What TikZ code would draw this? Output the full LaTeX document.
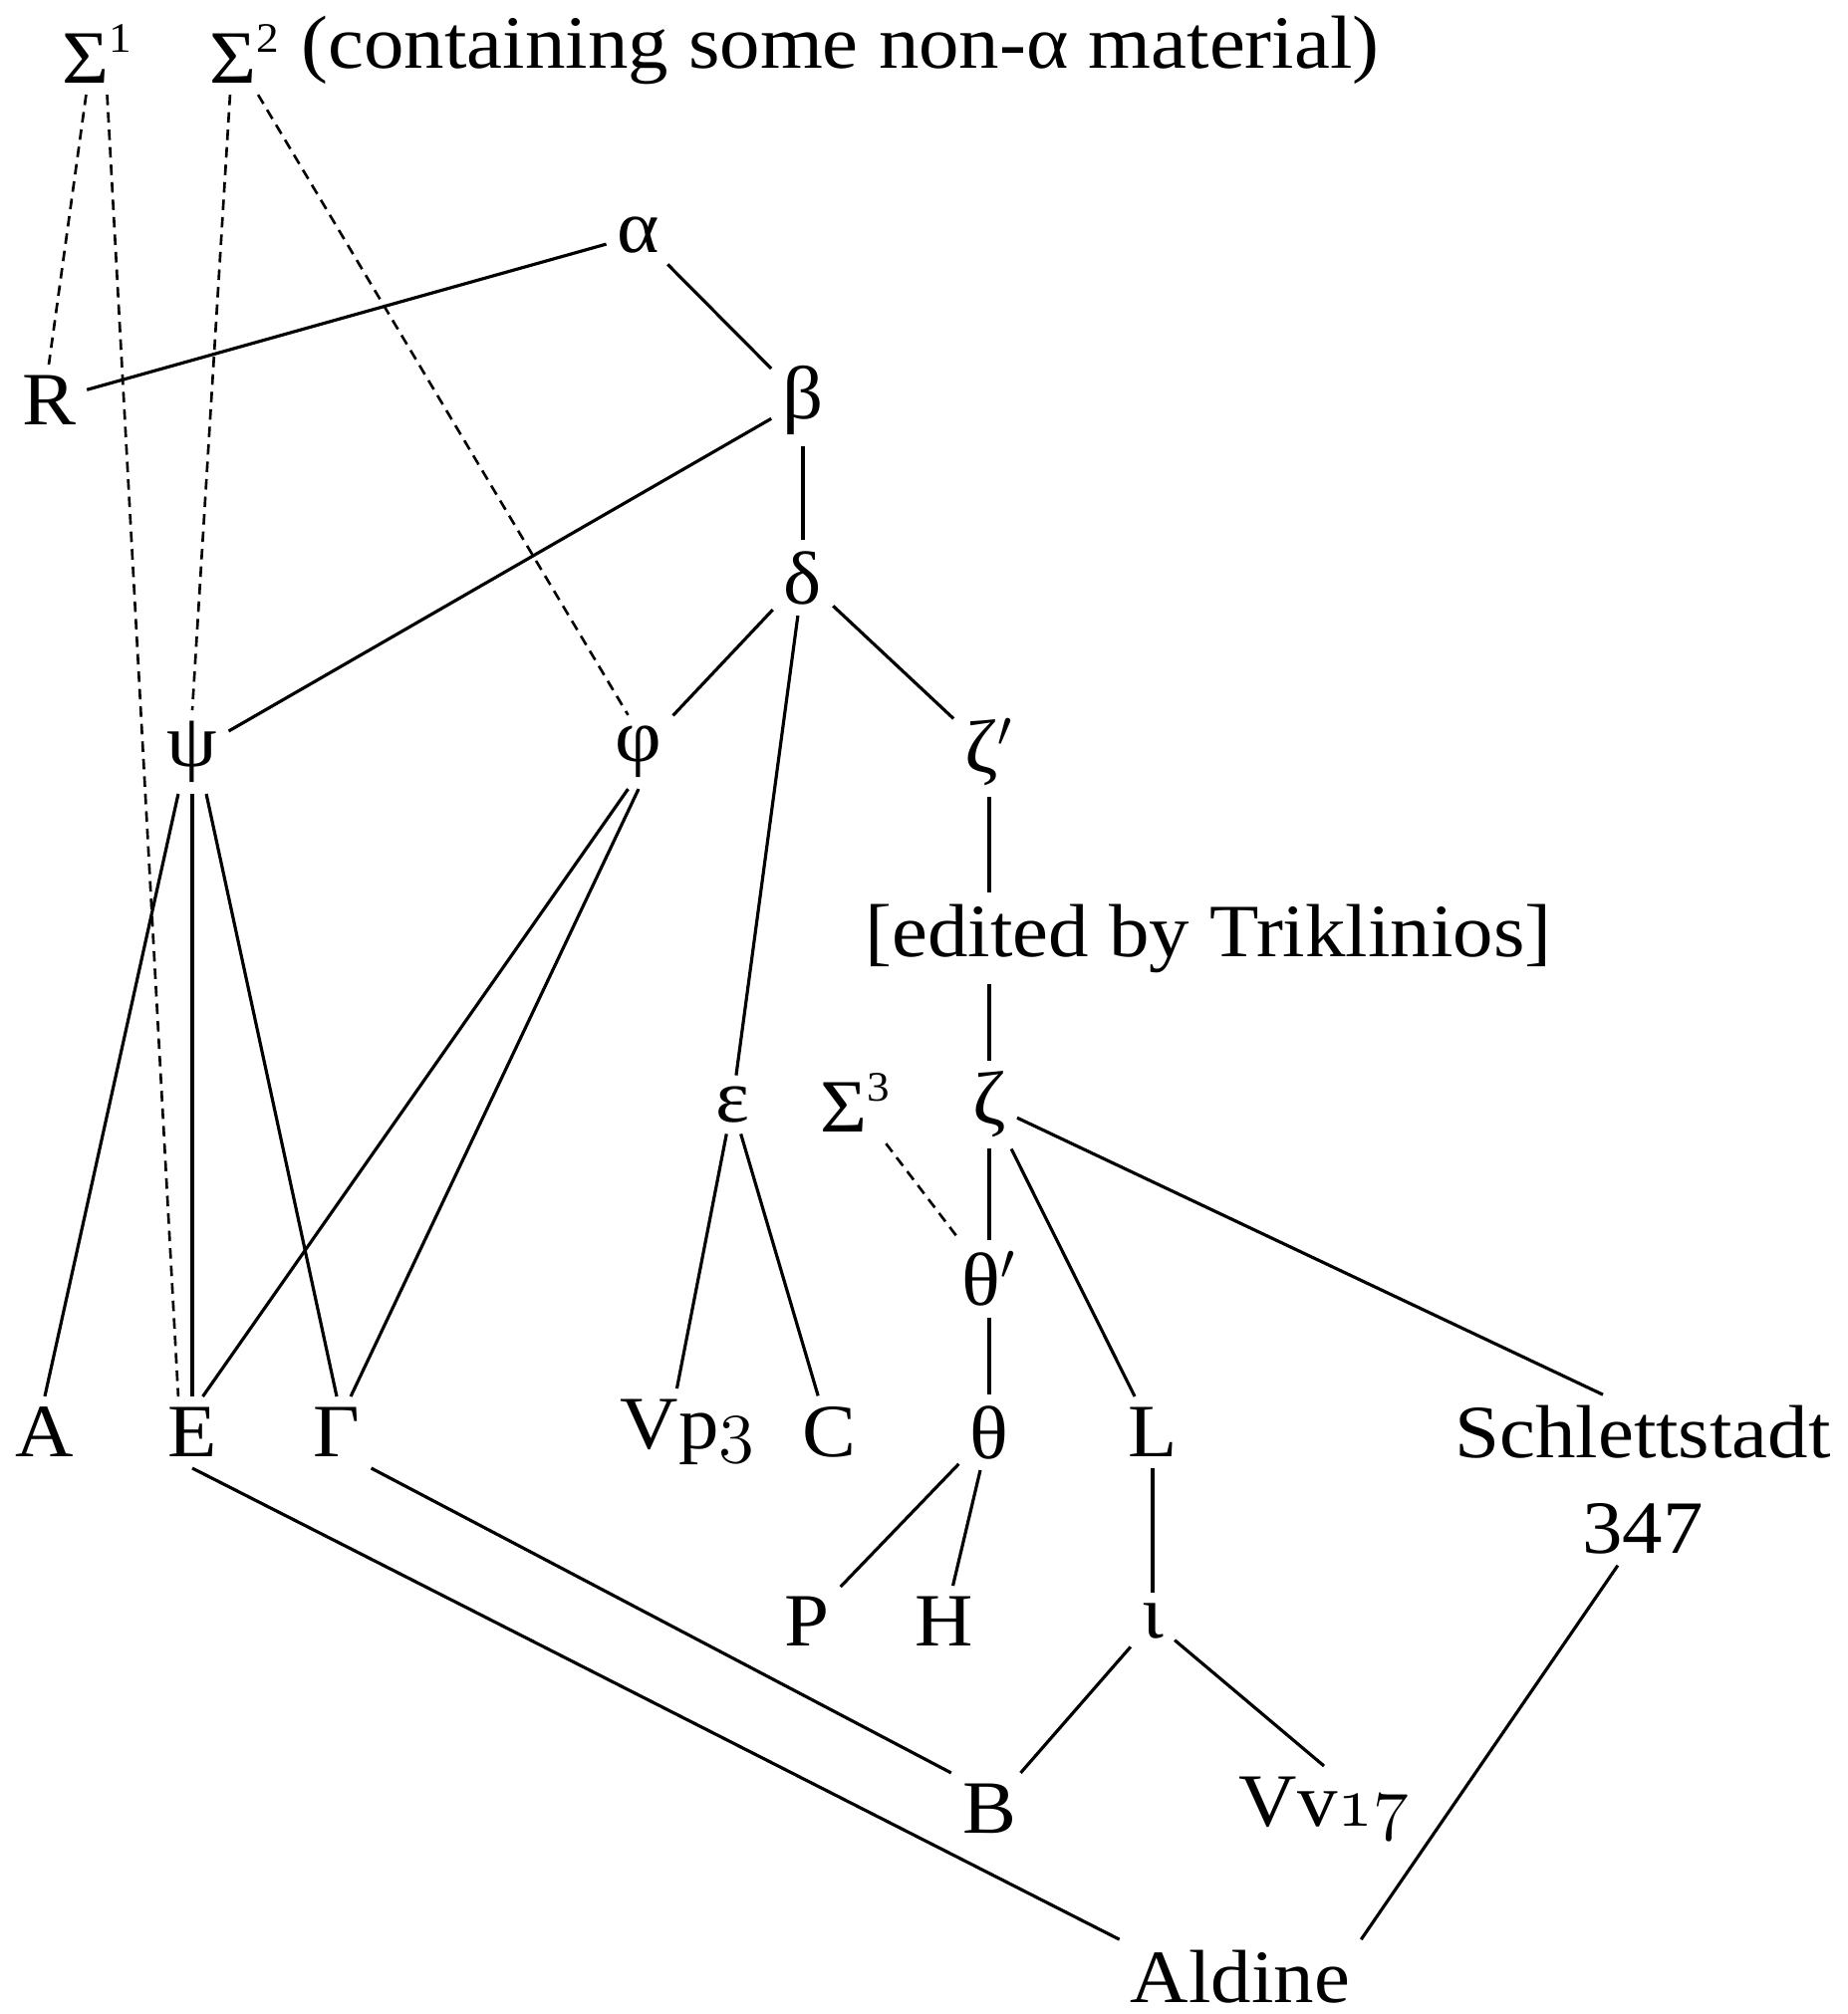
\documentclass[tikz,border=0pt]{standalone}
\usepackage{fontspec}
\setmainfont{Liberation Serif}[FakeStretch=1.07]
\newcommand{\osn}[1]{{\usefont{OML}{cmm}{m}{it}#1}}
\newcommand{\sups}[1]{\raisebox{0.42em}{\fontsize{12}{12}\selectfont #1}}
\begin{document}
\begin{tikzpicture}[
  lbl/.style={inner sep=3pt, font=\fontsize{21.5}{25}\selectfont},
  ln/.style={line width=0.9pt},
  dl/.style={line width=0.75pt, dash pattern=on 3pt off 2pt}
]
\useasboundingbox (0,0) rectangle (18.55,-20.22);
% nodes
\node[lbl] (s1) at (0.97,-0.54) {Σ\sups{1}};
\node[lbl] (s2) at (2.45,-0.54) {Σ\sups{2}};
\node[lbl, anchor=west, inner sep=0pt] (s2t) at (3.02,-0.50) {(containing some non-α material)};
\node[lbl] (alpha) at (6.41,-2.36) {α};
\node[lbl] (R) at (0.49,-4.02) {R};
\node[lbl] (beta) at (8.06,-4.02) {β};
\node[lbl] (delta) at (8.06,-5.80) {δ};
\node[lbl] (psi) at (1.93,-7.55) {ψ};
\node[lbl] (phi) at (6.41,-7.55) {φ};
\node[lbl] (zetap) at (9.93,-7.55) {ζ$'$};
\node[lbl] (edited) at (12.13,-9.42) {[edited by Triklinios]};
\node[lbl] (eps) at (7.35,-11.09) {ε};
\node[lbl] (s3) at (8.58,-11.07) {Σ\sups{3}};
\node[lbl] (zeta) at (9.93,-11.09) {ζ};
\node[lbl] (thetap) at (9.93,-12.84) {θ$'$};
\node[lbl] (A) at (0.45,-14.38) {A};
\node[lbl] (E) at (1.93,-14.38) {E};
\node[lbl] (Gamma) at (3.38,-14.38) {Γ};
\node[lbl] (vp) at (6.90,-14.38) {Vp\osn{3}};
\node[lbl] (C) at (8.32,-14.38) {C};
\node[lbl] (theta) at (9.93,-14.38) {θ};
\node[lbl] (L) at (11.57,-14.38) {L};
\node[lbl] (schl) at (16.49,-14.38) {Schlettstadt};
\node[lbl] (n347) at (16.49,-15.35) {347};
\node[lbl] (P) at (8.10,-16.28) {P};
\node[lbl] (H) at (9.48,-16.28) {H};
\node[lbl] (iota) at (11.57,-16.28) {ι};
\node[lbl] (B) at (9.93,-18.16) {B};
\node[lbl] (vv) at (13.29,-18.16) {Vv\osn{17}};
\node[lbl] (aldine) at (12.45,-19.85) {Aldine};
% dashed connectors
\draw[dl] ([xshift=-3pt]s1.south) -- (R.north);
\draw[dl] ([xshift=3pt]s1.south) -- ([xshift=-4pt]E.north);
\draw[dl] ([xshift=-4pt]s2.south) -- (psi.north);
\draw[dl] ([xshift=4pt]s2.south) -- ([xshift=-3pt]phi.north);
\draw[dl] (s3) -- (thetap);
% solid connectors
\draw[ln] (alpha) -- (R);
\draw[ln] (alpha) -- (beta);
\draw[ln] (beta) -- (psi);
\draw[ln] (beta) -- (delta);
\draw[ln] (delta) -- (phi);
\draw[ln] (delta) -- (eps);
\draw[ln] (delta) -- (zetap);
\draw[ln] ([xshift=-4pt]psi.south) -- (A.north);
\draw[ln] (psi.south) -- (E.north);
\draw[ln] ([xshift=4pt]psi.south) -- (Gamma.north);
\draw[ln] ([xshift=-3pt]phi.south) -- ([xshift=3pt]E.north);
\draw[ln] (phi.south) -- ([xshift=4pt]Gamma.north);
\draw[ln] (zetap) -- (zetap |- edited.north);
\draw[ln] (zetap |- edited.south) -- (zeta);
\draw[ln] (eps) -- ([xshift=-3pt]vp.north);
\draw[ln] (eps) -- (C);
\draw[ln] (zeta) -- (thetap);
\draw[ln] (zeta) -- (L);
\draw[ln] (zeta) -- ([xshift=-0.4cm]schl.north);
\draw[ln] (thetap) -- (theta);
\draw[ln] (theta) -- (P);
\draw[ln] (theta) -- (H);
\draw[ln] (L) -- (iota);
\draw[ln] (iota) -- (B);
\draw[ln] (iota) -- (vv.north);
\draw[ln] (E.south) -- (aldine.north west);
\draw[ln] (Gamma.south east) -- (B.north west);
\draw[ln] (n347) -- (aldine.north east);
\end{tikzpicture}
\end{document}
